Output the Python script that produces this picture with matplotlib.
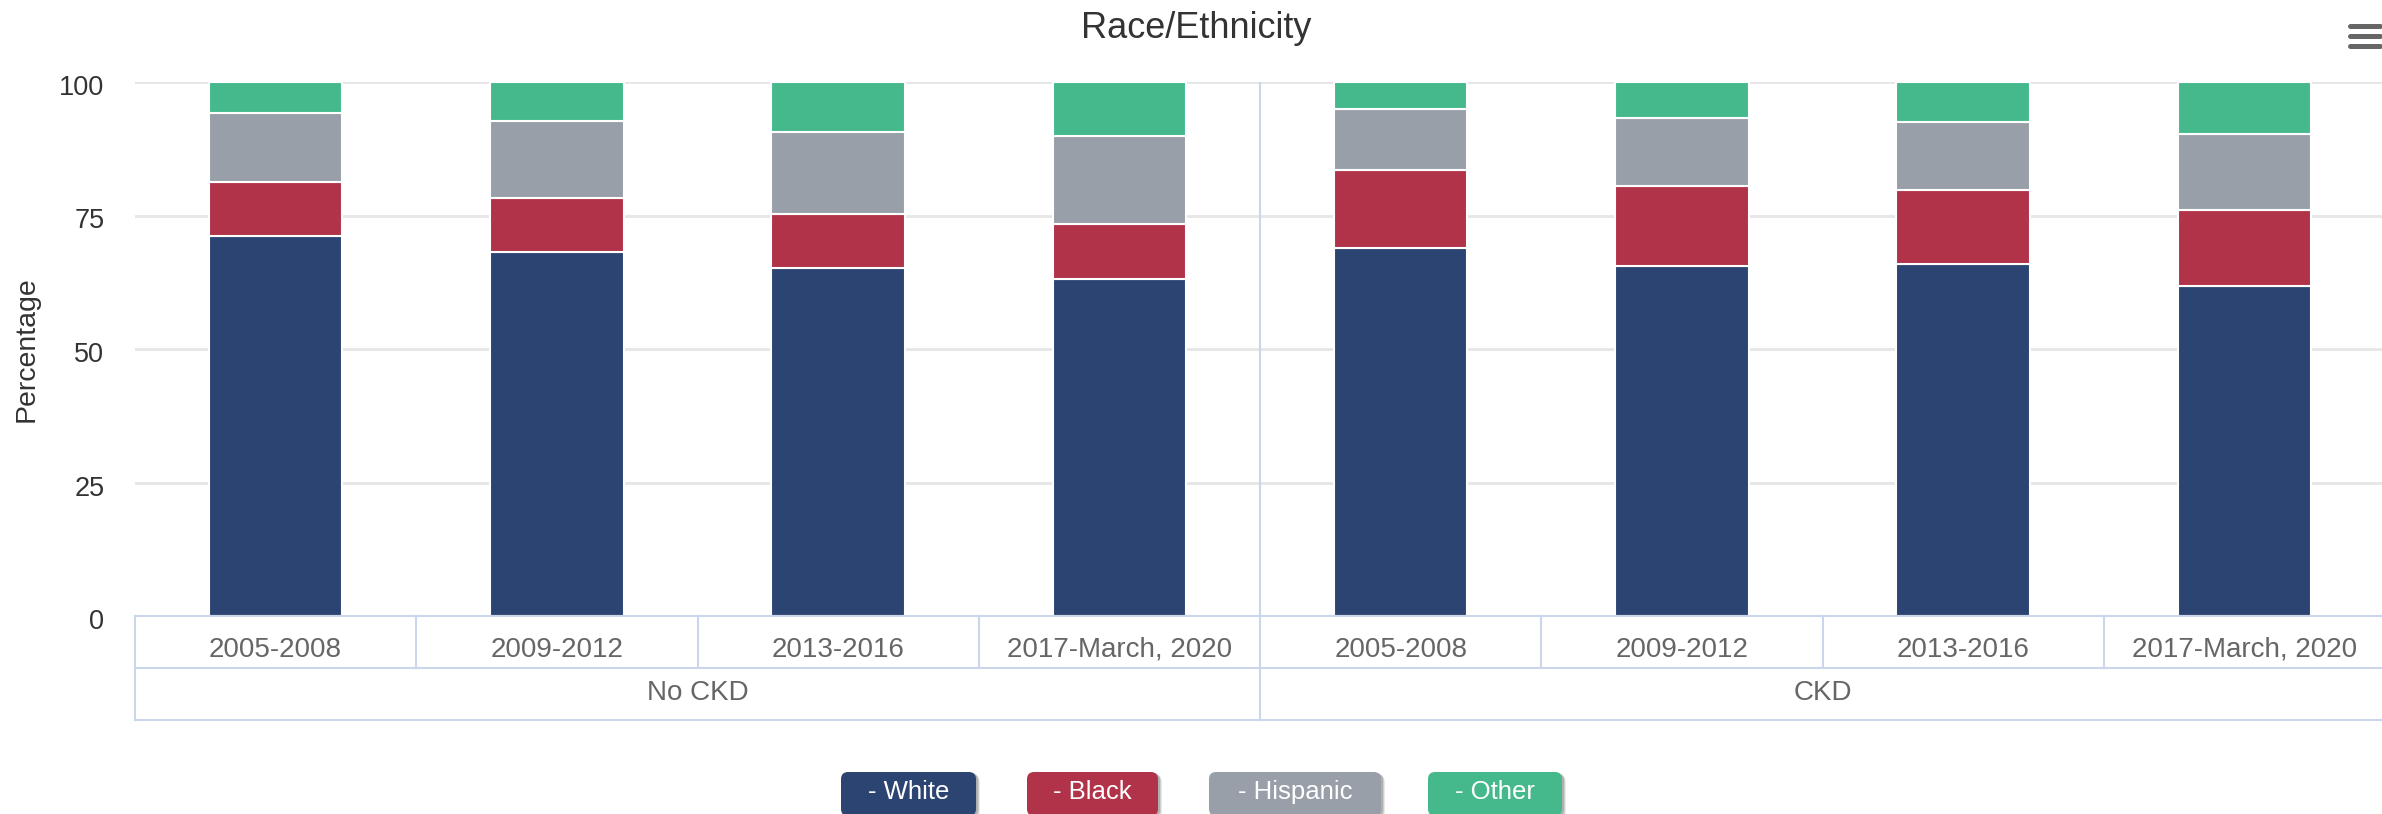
import matplotlib
matplotlib.use("Agg")
import matplotlib.pyplot as plt
import matplotlib.transforms as mtransforms
from matplotlib.patches import FancyBboxPatch
import numpy as np

plt.rcParams['font.family'] = ['Liberation Sans', 'DejaVu Sans']

periods = ["2005-2008", "2009-2012", "2013-2016", "2017-March, 2020"]
groups = ["No CKD", "CKD"]
series_names = ["White", "Black", "Hispanic", "Other"]
colors = ["#2c4472", "#b0334a", "#989fa8", "#45b98c"]

white = [71.2, 68.2, 65.1, 63.2, 68.9, 65.5, 65.9, 61.8]
black = [10.1, 10.1, 10.2, 10.2, 14.6, 15.1, 13.9, 14.2]
hispanic = [12.9, 14.4, 15.4, 16.5, 11.4, 12.7, 12.8, 14.3]
other = [5.8, 7.3, 9.3, 10.1, 5.1, 6.7, 7.4, 9.7]

yticks = [0, 25, 50, 75, 100]

W, H = 2382, 814
fig = plt.figure(figsize=(W / 100, H / 100), dpi=100)
left_px, right_px, top_px, bottom_px = 135, 2385, 82, 616
ax = fig.add_axes([left_px / W, (H - bottom_px) / H,
                   (right_px - left_px) / W, (bottom_px - top_px) / H])

n = len(groups) * len(periods)
x = np.arange(n)
bottom = np.zeros(n)
for vals, name, c in zip([white, black, hispanic, other], series_names, colors):
    ax.bar(x, vals, width=0.475, bottom=bottom, color=c, edgecolor="white",
           linewidth=1.5, zorder=3, label=name)
    bottom += np.array(vals)

ax.set_xlim(-0.5, n - 0.5)
ax.set_ylim(0, 100)
ax.set_yticks(yticks)
ax.set_yticklabels([str(t) for t in yticks], fontsize=19.5, color="#333333")
ax.tick_params(axis="y", length=0, pad=22)
for lbl in ax.get_yticklabels():
    lbl.set_transform(lbl.get_transform() + mtransforms.ScaledTranslation(0, -3 / 100, fig.dpi_scale_trans))
ax.set_xticks([])
for s in ax.spines.values():
    s.set_visible(False)
for t in yticks[1:]:
    ax.axhline(t, color="#e6e6e6", linewidth=2, zorder=1)

# group divider in plot
ax.axvline(3.5, color="#ccd6eb", linewidth=1.5, zorder=2)

# x-axis table
trans = mtransforms.blended_transform_factory(ax.transData, ax.transAxes)
ph = bottom_px - top_px
r1 = -(668 - bottom_px) / ph
r2 = -(720 - bottom_px) / ph
lc = "#ccd6eb"
for yy in [0, r1, r2]:
    ax.plot([-0.5, n - 0.5], [yy, yy], transform=trans, color=lc, lw=1.5, clip_on=False, zorder=4)
for b in np.arange(-0.5, n, 1.0):
    top = r2 if b in (-0.5, 3.5, n - 0.5) else r1
    ax.plot([b, b], [0, top], transform=trans, color=lc, lw=1.5, clip_on=False, zorder=4)
for i in range(n):
    ax.text(i, -(650 - bottom_px) / ph, periods[i % len(periods)], transform=trans,
            ha="center", va="center", fontsize=20, color="#666666")
for g, name in enumerate(groups):
    ax.text(g * len(periods) + (len(periods) - 1) / 2, -(693 - bottom_px) / ph, name,
            transform=trans, ha="center", va="center", fontsize=20, color="#666666")

# y label
fig.text(27 / W, (H - 349) / H, "Percentage", rotation=90, ha="center", va="center",
         fontsize=20.5, color="#333333")

# title
fig.text(1196 / W, (H - 28) / H, "Race/Ethnicity", ha="center", va="center",
         fontsize=26, color="#333333")

# hamburger menu icon
for yy in [25.7, 35.7, 45.7]:
    fig.add_artist(plt.Line2D([2350 / W, 2380 / W], [(H - yy) / H, (H - yy) / H],
                              color="#666666", lw=3.6, solid_capstyle="round"))

# legend buttons
buttons = [(841, 976), (1027, 1158), (1209, 1381), (1428, 1562)]
by0, by1 = 772, 816
for (bx0, bx1), name, c in zip(buttons, series_names, colors):
    for k, a in [(3, 0.12), (2, 0.18), (1, 0.25)]:
        sh = FancyBboxPatch(((bx0 + k + 1) / W, (H - by1 - k) / H), (bx1 - bx0) / W, (by1 - by0) / H,
                            boxstyle="round,pad=0,rounding_size=0.003", transform=fig.transFigure,
                            facecolor="#555555", edgecolor="none", alpha=a, mutation_aspect=W / H)
        fig.add_artist(sh)
    bp = FancyBboxPatch((bx0 / W, (H - by1) / H), (bx1 - bx0) / W, (by1 - by0) / H,
                        boxstyle="round,pad=0,rounding_size=0.003", transform=fig.transFigure,
                        facecolor=c, edgecolor="none", mutation_aspect=W / H)
    fig.add_artist(bp)
    fig.text((bx0 + bx1) / 2 / W, (H - 792) / H, "- " + name, ha="center", va="center",
             fontsize=18.5, color="white")

fig.savefig("out.png", dpi=100)
